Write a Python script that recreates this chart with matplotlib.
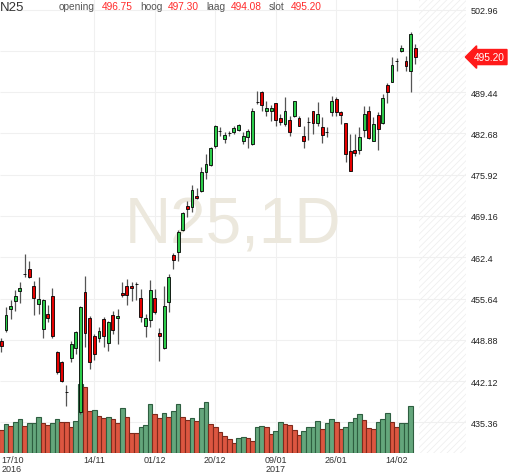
import numpy as np
import matplotlib.pyplot as plt
from matplotlib.patches import Rectangle
from matplotlib.transforms import blended_transform_factory

plt.rcParams['font.family'] = ['Liberation Sans', 'DejaVu Sans']
plt.rcParams['hatch.linewidth'] = 0.5

# N25 daily candles, 17/10/2016 - 17/02/2017
opens = [448.63, 450.48, 453.87, 455.23, 456.92, 459.60, 460.48, 457.64, 454.69, 450.65,
         453.10, 456.10, 446.93, 445.19, 440.28, 445.85, 447.53, 437.00, 456.66, 452.40,
         449.45, 449.12, 452.28, 448.35, 452.94, 452.50, 456.54, 457.64, 457.74, 458.02,
         455.68, 451.09, 452.12, 455.68, 449.94, 447.48, 455.02, 462.82, 463.31, 466.87,
         470.75, 470.58, 472.39, 473.30, 476.42, 477.56, 480.58, 483.13, 481.77, 482.76,
         482.87, 483.30, 481.50, 482.05, 480.96, 487.88, 489.52, 486.36, 486.36, 487.62,
         485.17, 484.23, 484.94, 485.59, 485.17, 482.31, 484.61, 486.41, 484.39, 483.79,
         482.92, 486.15, 488.33, 486.25, 484.35, 479.76, 480.02, 480.02, 483.30, 486.41,
         481.50, 485.71, 484.39, 490.62, 491.16, 494.60, 496.24, 494.60, 492.96, 496.75]
highs = [449.17, 454.30, 455.40, 457.04, 458.40, 462.93, 461.84, 458.51, 459.12, 455.56,
         454.58, 457.31, 447.09, 445.45, 441.52, 448.73, 450.37, 454.46, 459.38, 452.73,
         449.83, 450.92, 452.56, 452.01, 453.64, 453.92, 458.30, 458.84, 458.40, 458.40,
         457.20, 453.10, 458.72, 457.20, 450.76, 457.74, 459.66, 463.10, 466.91, 469.77,
         471.67, 474.24, 473.70, 477.14, 479.32, 480.41, 484.07, 483.69, 482.87, 483.13,
         483.85, 484.15, 482.87, 483.41, 486.80, 489.69, 489.69, 488.05, 487.34, 487.62,
         485.87, 488.70, 485.59, 488.05, 485.59, 483.85, 485.33, 486.41, 487.79, 485.33,
         483.69, 488.87, 488.61, 486.41, 484.39, 482.59, 482.59, 483.69, 487.13, 487.13,
         485.33, 486.15, 489.15, 490.95, 495.16, 495.00, 497.17, 495.42, 499.30, 497.30]
lows = [446.83, 450.11, 452.28, 453.64, 454.91, 459.12, 458.95, 452.94, 453.10, 449.12,
        451.74, 449.12, 443.27, 442.01, 438.08, 445.19, 446.55, 436.72, 447.65, 444.09,
        445.62, 448.47, 447.65, 447.09, 449.83, 448.19, 455.84, 454.58, 455.28, 455.40,
        451.74, 449.29, 450.92, 453.10, 445.45, 447.37, 453.48, 460.48, 461.84, 466.75,
        468.95, 469.77, 471.94, 473.04, 475.22, 477.40, 480.25, 482.31, 481.12, 482.22,
        482.59, 483.13, 480.96, 480.30, 480.79, 487.51, 486.41, 485.59, 484.77, 483.95,
        484.07, 483.85, 482.22, 485.33, 483.85, 480.25, 481.66, 482.59, 483.95, 481.12,
        482.10, 485.49, 485.49, 484.23, 477.96, 476.58, 479.04, 479.32, 482.05, 481.77,
        481.50, 480.02, 484.23, 487.67, 491.06, 492.96, 495.98, 492.96, 489.52, 494.08]
closes = [447.81, 452.94, 454.46, 456.00, 457.31, 459.60, 459.12, 455.68, 455.56, 455.40,
          452.40, 449.45, 443.55, 442.18, 440.28, 448.19, 450.11, 454.20, 449.94, 445.19,
          446.55, 450.37, 449.55, 451.74, 450.53, 452.83, 456.22, 456.22, 457.31, 458.02,
          452.56, 452.40, 457.09, 453.48, 449.45, 454.37, 459.12, 462.00, 466.59, 469.60,
          470.31, 473.47, 472.06, 476.32, 477.63, 480.25, 483.85, 483.13, 482.43, 482.76,
          483.53, 484.07, 482.31, 483.13, 486.31, 487.88, 487.34, 486.80, 486.80, 484.94,
          484.51, 486.41, 482.87, 487.95, 483.95, 481.50, 484.61, 484.39, 485.87, 482.43,
          482.92, 487.95, 486.25, 485.71, 479.32, 476.58, 479.48, 482.05, 485.87, 481.89,
          484.23, 483.41, 488.44, 489.42, 493.95, 494.60, 496.63, 493.78, 498.98, 495.20]

# relative volume (no scale shown), last session has no bar yet
volumes = [23.0, 28.7, 27.0, 30.7, 33.7, 27.0, 29.7, 29.7, 35.7, 29.7,
           28.0, 29.7, 33.7, 31.3, 30.7, 25.7, 32.3, 69.0, 66.7, 42.0,
           43.0, 37.0, 34.7, 35.7, 33.7, 29.7, 44.7, 36.3, 19.7, 19.7,
           25.7, 28.0, 49.0, 39.0, 34.7, 39.7, 36.3, 42.3, 49.0, 36.3,
           33.0, 34.7, 32.3, 44.7, 50.7, 28.7, 25.7, 20.7, 17.3, 14.0,
           9.7, 14.7, 15.7, 14.7, 12.3, 26.3, 27.0, 26.3, 18.7, 22.3,
           31.3, 28.7, 28.0, 23.0, 18.0, 22.0, 26.3, 26.3, 32.3, 24.0,
           29.7, 34.0, 31.3, 24.0, 26.3, 30.7, 34.7, 39.0, 33.0, 24.7,
           24.0, 31.3, 34.0, 39.7, 30.7, 26.3, 29.7, 29.7, 47.3]
vol_dir = "rgrggrgggrrggrrrggrrgrrgrrgrrrgggrrgrggrrgrggrrrrrrggrrggrrggrrrrggggrggrrggggrrrgggrrggg"

date_idx = [0, 20, 33, 46, 59, 72, 85]
date_labels = ["17/10\n2016", "14/11", "01/12", "20/12", "09/01\n2017", "26/01", "14/02"]
price_ticks = [435.36, 442.12, 448.88, 455.64, 462.4, 469.16, 475.92, 482.68, 489.44, 496.2, 502.96]
price_labels = ["435.36", "442.12", "448.88", "455.64", "462.4", "469.16", "475.92",
                "482.68", "489.44", "496.2", "502.96"]

x = np.arange(len(opens))
o = np.array(opens)
c = np.array(closes)

fig = plt.figure(figsize=(5.12, 4.77), dpi=100)
pos = [0, 23 / 477, 466 / 512, 454 / 477]

vax = fig.add_axes(pos)                 # volume + grid, bottom layer
ax = fig.add_axes(pos, sharex=vax)      # candles on top
ax.patch.set_visible(False)
ax.set_ylim(430.33, 504.71)
ax.set_xlim(-0.28, 99.9)
vmax = max(volumes) * 6.6
vax.set_ylim(0, vmax)

# grid and empty future zone
hgrid = blended_transform_factory(vax.transAxes, ax.transData)
vax.hlines(price_ticks, 0, 1, transform=hgrid, color='#f0f0f0', lw=0.8, zorder=1)
for d in date_idx[1:]:
    vax.axvline(d, color='#f0f0f0', lw=0.8, zorder=1)
vax.add_patch(Rectangle((89.8, 0), 10.1, vmax, facecolor='white',
                        edgecolor='#ededed', hatch='/////', linewidth=0, zorder=0))

vx = np.arange(len(volumes))
vcols = ['#64a67c' if d == 'g' else '#dc5640' for d in vol_dir]
vedge = ['#2e5e40' if d == 'g' else '#7f2a1c' for d in vol_dir]
vax.bar(vx, volumes, width=1.0, color=vcols, edgecolor=vedge, linewidth=0.8, zorder=2)
vax.axis('off')

for s in ax.spines.values():
    s.set_visible(False)

ax.text(0.5, 0.5, "N25,1D", transform=ax.transAxes, fontsize=46, color='#ece8dd',
        ha='center', va='center', zorder=0.5)

ax.vlines(x, lows, highs, color='#555555', lw=0.9, zorder=2)
body_col = np.where(c >= o, '#2ccc4a', '#e60000')
ax.bar(x, np.abs(c - o), bottom=np.minimum(o, c), width=0.62, color=body_col,
       edgecolor='black', linewidth=0.6, zorder=3)

ax.yaxis.tick_right()
ax.set_yticks(price_ticks)
ax.set_yticklabels(price_labels)
ax.tick_params(axis='y', length=0, pad=3.6, labelsize=6.5, labelcolor='#222222')
ax.set_xticks(date_idx)
ax.set_xticklabels(date_labels)
ax.tick_params(axis='x', length=0, pad=1.5, labelsize=6.5, labelcolor='#333333')
for lab in ax.get_xticklabels():
    lab.set_linespacing(0.95)
ax.get_xticklabels()[0].set_ha('left')

# last price marker
ax.text(489 / 466, closes[-1], f"{closes[-1]:.2f}", transform=ax.get_yaxis_transform(),
        color='white', fontsize=7.3, ha='center', va='center', zorder=5,
        bbox=dict(boxstyle='larrow,pad=0.25', fc='#ff1a1a', ec='#ff1a1a'))

# header
fig.text(0 / 512, 1 - 11 / 477, "N25", fontsize=9.5, color='#333333', va='baseline')
head = [(59, "opening", '#555555'), (102, f"{opens[-1]:.2f}", '#ff2a2a'),
        (140, "hoog", '#555555'), (168, f"{highs[-1]:.2f}", '#ff2a2a'),
        (206, "laag", '#555555'), (231, f"{lows[-1]:.2f}", '#ff2a2a'),
        (269, "slot", '#555555'), (291, f"{closes[-1]:.2f}", '#ff2a2a')]
for hx, txt, col in head:
    fig.text(hx / 512, 1 - 9.5 / 477, txt, fontsize=7.3, color=col, va='baseline')

fig.savefig('out.png', dpi=100)
